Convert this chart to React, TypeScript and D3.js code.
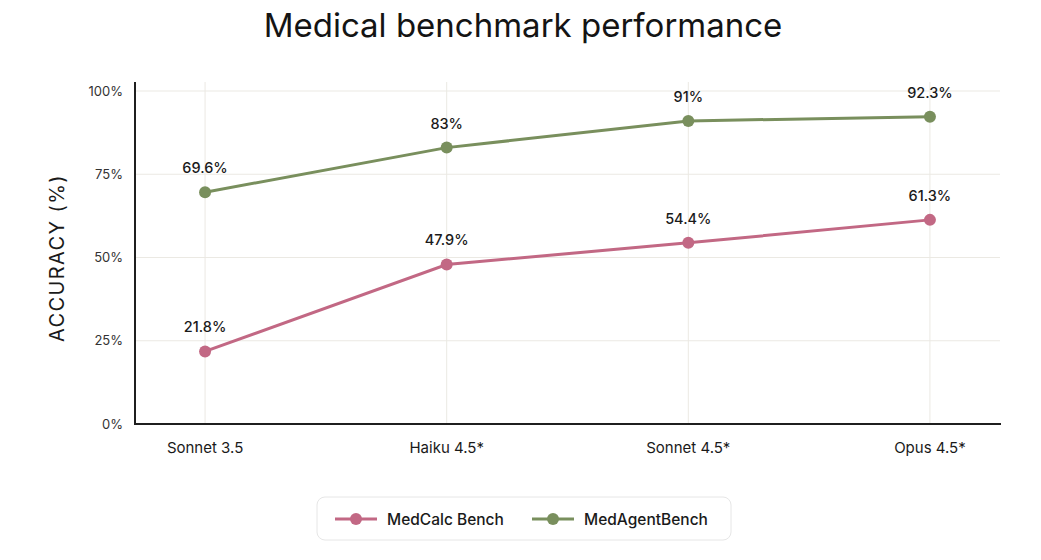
import * as d3 from "d3";

const models = ["Sonnet 3.5", "Haiku 4.5*", "Sonnet 4.5*", "Opus 4.5*"];
const medCalc = [21.8, 47.9, 54.4, 61.3];
const medAgent = [69.6, 83, 91, 92.3];
const yTicks = [0, 25, 50, 75, 100];
const seriesNames = ["MedCalc Bench", "MedAgentBench"];
const seriesColors = ["#c26884", "#798f5d"];

const W = 1041;
const H = 560;
const FONT = "Inter, 'Noto Sans', sans-serif";

export default function App() {
  const x = d3.scalePoint<string>().domain(models).range([135, 1000]).padding(0.29);
  const y = d3.scaleLinear().domain([0, 100]).range([424, 91]);
  const line = d3
    .line<number>()
    .x((_, i) => x(models[i]) as number)
    .y((d) => y(d));

  const series = [medCalc, medAgent];
  const fmt = (v: number) => `${v}%`;

  return (
    <svg
      width={W}
      height={H}
      style={{ position: "absolute", left: 0, top: 0, background: "#fff" }}
      fontFamily={FONT}
    >
      <text x={523} y={37} textAnchor="middle" fontSize={33} fill="#141414" fontWeight={400}>
        Medical benchmark performance
      </text>

      {/* grid */}
      {yTicks.filter((t) => t > 0).map((t) => (
        <line key={t} x1={135} x2={1000} y1={y(t)} y2={y(t)} stroke="#ebe9e3" strokeWidth={1} />
      ))}
      {models.map((m) => (
        <line key={m} x1={x(m)} x2={x(m)} y1={82} y2={424} stroke="#ebe9e3" strokeWidth={1} />
      ))}

      {/* axes */}
      <line x1={135} x2={135} y1={82} y2={424} stroke="#1f1f1f" strokeWidth={2} />
      <line x1={134} x2={1001} y1={424} y2={424} stroke="#1f1f1f" strokeWidth={2} />

      {yTicks.map((t) => (
        <text key={t} x={123} y={y(t) + 4.5} textAnchor="end" fontSize={13} fill="#333">
          {t}%
        </text>
      ))}
      {models.map((m) => (
        <text key={m} x={x(m)} y={453} textAnchor="middle" fontSize={15} fill="#1a1a1a">
          {m}
        </text>
      ))}

      <text
        transform={`translate(64,${258}) rotate(-90)`}
        textAnchor="middle"
        fontSize={20}
        letterSpacing={1.4}
        fill="#1a1a1a"
      >
        ACCURACY (%)
      </text>

      {/* series */}
      {series.map((vals, si) => (
        <g key={si}>
          <path d={line(vals) as string} fill="none" stroke={seriesColors[si]} strokeWidth={3} />
          {vals.map((v, i) => (
            <g key={i}>
              <circle cx={x(models[i])} cy={y(v)} r={6} fill={seriesColors[si]} />
              <text
                x={x(models[i])}
                y={y(v) - 19}
                textAnchor="middle"
                fontSize={14.5}
                fontWeight={500}
                fill="#1a1a1a"
              >
                {fmt(v)}
              </text>
            </g>
          ))}
        </g>
      ))}

      {/* legend */}
      <rect x={317} y={497} width={414} height={43} rx={8} fill="#fff" stroke="#e6e6e6" strokeWidth={1} />
      {seriesNames.map((name, i) => {
        const lx = i === 0 ? 335 : 532;
        return (
          <g key={name}>
            <line x1={lx} x2={lx + 42} y1={519} y2={519} stroke={seriesColors[i]} strokeWidth={3} />
            <circle cx={lx + 21} cy={519} r={6} fill={seriesColors[i]} />
            <text x={lx + 52} y={524.5} fontSize={15.5} fontWeight={500} fill="#1a1a1a">
              {name}
            </text>
          </g>
        );
      })}
    </svg>
  );
}
